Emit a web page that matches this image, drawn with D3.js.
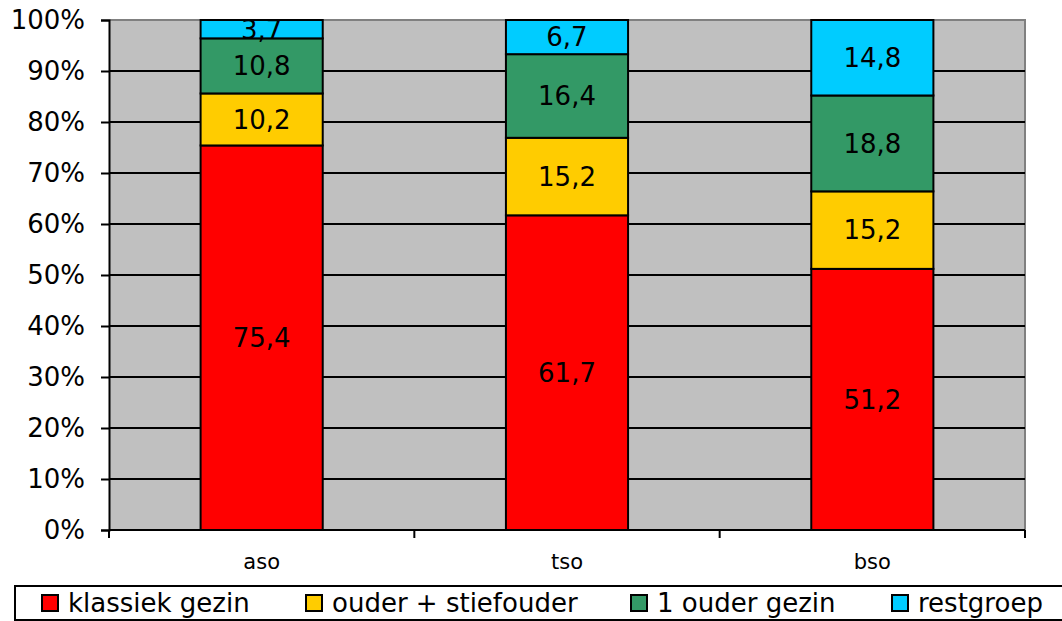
<!DOCTYPE html>
<html>
<head>
<meta charset="utf-8">
<script src="https://cdn.jsdelivr.net/npm/d3@7"></script>
<style>
  body { margin: 0; background: #fff; }
  svg { display: block; font-family: Verdana, "DejaVu Sans", sans-serif; }
</style>
</head>
<body>
<svg id="chart" width="1062" height="621"></svg>
<script>
const categories = ['aso', 'tso', 'bso'];
const seriesNames = ['klassiek gezin', 'ouder + stiefouder', '1 ouder gezin', 'restgroep'];
const seriesColors = ['#ff0000', '#ffcc00', '#339966', '#00ccff'];
// values per series, one entry per category
const klassiek = [75.4, 61.7, 51.2];
const stiefouder = [10.2, 15.2, 15.2];
const eenOuder = [10.8, 16.4, 18.8];
const restgroep = [3.7, 6.7, 14.8];
const yTicks = [0, 10, 20, 30, 40, 50, 60, 70, 80, 90, 100];

const seriesValues = [klassiek, stiefouder, eenOuder, restgroep];

const W = 1062, H = 621,
      M = { top: 20, right: 37, bottom: 91, left: 109 };

const svg = d3.select('#chart');

const x = d3.scaleBand()
   .domain(categories)
   .range([M.left, W - M.right])
   .paddingInner(0.6)
   .paddingOuter(0.3);

const y = d3.scaleLinear()
   .domain([0, 100])
   .range([H - M.bottom, M.top])
   .clamp(true);

// plot background
svg.append('rect')
   .attr('x', M.left).attr('y', M.top)
   .attr('width', W - M.left - M.right)
   .attr('height', H - M.top - M.bottom)
   .attr('fill', '#c0c0c0');

// border top / right
svg.append('path')
   .attr('d', `M${M.left},${M.top}H${W - M.right}V${H - M.bottom}`)
   .attr('fill', 'none')
   .attr('stroke', '#808080')
   .attr('stroke-width', 2);

// gridlines
svg.append('g')
   .selectAll('line')
   .data(yTicks.filter(d => d > 0 && d < 100))
   .join('line')
   .attr('x1', M.left).attr('x2', W - M.right)
   .attr('y1', d => y(d)).attr('y2', d => y(d))
   .attr('stroke', '#000')
   .attr('stroke-width', 2);

// stacked data
const rows = categories.map((c, i) => {
   let r = { cat: c };
   seriesNames.forEach((s, j) => r[s] = seriesValues[j][i]);
   return r;
});
const stacked = d3.stack().keys(seriesNames)(rows);

const layers = svg.append('g')
   .selectAll('g')
   .data(stacked)
   .join('g')
   .attr('fill', (d, i) => seriesColors[i]);

layers.selectAll('rect')
   .data(d => d)
   .join('rect')
   .attr('x', d => x(d.data.cat))
   .attr('width', x.bandwidth())
   .attr('y', d => y(d[1]))
   .attr('height', d => y(d[0]) - y(d[1]))
   .attr('stroke', '#000')
   .attr('stroke-width', 2);

layers.selectAll('text')
   .data((d, i) => d.map(p => ({ p: p, key: d.key })))
   .join('text')
   .attr('x', d => x(d.p.data.cat) + x.bandwidth() / 2)
   .attr('y', d => (y(d.p[0]) + y(d.p[1])) / 2)
   .attr('dy', '0.36em')
   .attr('text-anchor', 'middle')
   .attr('fill', '#000')
   .style('font-size', '26px')
   .text(d => d3.format('.1f')(d.p.data[d.key]).replace('.', ','));

// y axis
const yAxis = svg.append('g')
   .attr('transform', `translate(${M.left},0)`)
   .call(d3.axisLeft(y).tickValues(yTicks).tickFormat(d => d + '%').tickSize(8).tickPadding(16));
yAxis.select('.domain').attr('stroke-width', 2);
yAxis.selectAll('.tick line').attr('stroke-width', 2);
yAxis.selectAll('text')
   .style('font-size', '26px')
   .style('font-family', 'Verdana, "DejaVu Sans", sans-serif')
   .attr('fill', '#000');

// x axis: ticks between categories
const xAxisG = svg.append('g')
   .attr('transform', `translate(0,${H - M.bottom})`);
xAxisG.append('line')
   .attr('x1', M.left).attr('x2', W - M.right)
   .attr('stroke', '#000').attr('stroke-width', 2);
const bounds = d3.range(categories.length + 1).map(i => M.left + i * (W - M.left - M.right) / categories.length);
xAxisG.selectAll('.xt')
   .data(bounds)
   .join('line')
   .attr('class', 'xt')
   .attr('x1', d => d).attr('x2', d => d)
   .attr('y1', 0).attr('y2', 8)
   .attr('stroke', '#000').attr('stroke-width', 2);
xAxisG.selectAll('text')
   .data(categories)
   .join('text')
   .attr('x', d => x(d) + x.bandwidth() / 2)
   .attr('y', 39)
   .attr('text-anchor', 'middle')
   .style('font-size', '21px')
   .text(d => d);

// legend
const legend = svg.append('g');
legend.append('rect')
   .attr('x', 15).attr('y', 586)
   .attr('width', 1060).attr('height', 34)
   .attr('fill', '#fff')
   .attr('stroke', '#000')
   .attr('stroke-width', 2);
const legendX = [42, 306, 631, 892];
const li = legend.selectAll('.li')
   .data(seriesNames)
   .join('g')
   .attr('class', 'li')
   .attr('transform', (d, i) => `translate(${legendX[i]},595)`);
li.append('rect')
   .attr('width', 16).attr('height', 16)
   .attr('fill', (d, i) => seriesColors[i])
   .attr('stroke', '#000')
   .attr('stroke-width', 2);
li.append('text')
   .attr('x', 26)
   .attr('y', 8)
   .attr('dy', '0.36em')
   .style('font-size', '26px')
   .text(d => d);
</script>
</body>
</html>
